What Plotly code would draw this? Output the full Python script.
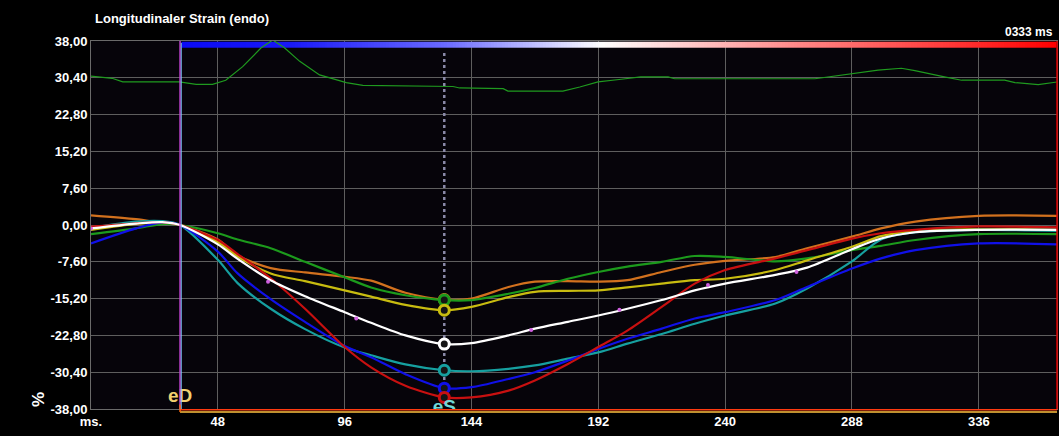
import numpy as np
import plotly.graph_objects as go

# ---------------- data ----------------
t_ms = [0, 17, 27, 33.7, 48, 55.5, 68, 81, 96, 106, 119, 133.7, 144, 158, 168, 180.5,
        192, 203, 216, 228.5, 240, 259, 271, 288, 299, 312, 336, 366]

orange = [2.0, 1.2, 0.4, 0, -3.0, -6.3, -8.9, -9.8, -10.7, -11.5, -14.0, -15.4, -15.2, -12.8, -11.7, -11.6,
          -11.7, -11.4, -9.7, -8.2, -7.4, -6.6, -4.8, -2.4, -0.7, 0.7, 1.9, 1.9]
green = [-1.9, -0.7, 0.2, 0, -1.7, -3.0, -4.8, -7.6, -10.8, -12.9, -14.5, -15.5, -15.5, -14.2, -13.0, -11.1,
         -9.7, -8.6, -7.6, -6.4, -6.6, -7.5, -6.9, -5.2, -4.3, -3.1, -1.9, -1.9]
yellow = [-1.0, 0.2, 0.6, 0, -3.5, -6.5, -10.0, -11.6, -13.5, -14.8, -16.5, -17.6, -16.9, -14.9, -13.8, -13.6,
          -13.5, -12.9, -12.1, -11.4, -11.1, -9.3, -7.3, -4.5, -2.3, -1.2, -0.9, -1.0]
white = [-0.7, 0.3, 0.6, 0, -4.0, -7.0, -11.4, -14.7, -18.0, -20.2, -22.8, -24.6, -24.4, -22.8, -21.4, -20.0,
         -18.7, -17.3, -15.5, -13.5, -12.1, -10.3, -8.8, -5.0, -2.8, -1.5, -1.0, -1.0]
teal = [-0.6, 0.7, 0.8, 0, -7.2, -12.0, -17.3, -21.5, -25.3, -26.9, -28.8, -30.0, -30.2, -29.7, -29.0, -27.6,
        -26.3, -24.5, -22.5, -20.4, -18.7, -16.2, -13.1, -7.5, -3.0, -1.5, -1.0, -1.2]
blue = [-3.8, -0.7, 0.55, 0, -5.5, -10.0, -15.3, -20.0, -25.0, -27.3, -30.8, -33.7, -33.5, -31.8, -30.4, -28.0,
        -25.6, -23.5, -21.4, -19.3, -18.0, -15.5, -12.8, -9.0, -6.9, -5.2, -3.8, -4.0]
red = [-0.35, 0.35, 0.6, 0, -3.1, -6.0, -11.0, -17.3, -25.2, -29.4, -33.2, -35.6, -35.6, -34.2, -32.1, -28.7,
       -25.2, -21.8, -16.9, -12.1, -9.3, -6.9, -5.2, -2.8, -1.7, -1.0, -0.3, -0.5]

# top (green) trace
top_t = [0, 8, 12, 33.4, 39.8, 46, 51, 57.4, 64.4, 68.8, 73.2, 79, 86.5, 96.6, 102.9, 137, 139.5, 156,
         157.8, 178.6, 185, 191.9, 200.7, 208, 218.4, 220.9, 274, 285, 291.6, 297.9, 306.7, 311.8, 323,
         329.5, 345.8, 349.7, 358.5, 366]
top_v = [30.75, 30.3, 29.56, 29.56, 29.06, 29.06, 29.9, 32.7, 36.6, 38.2, 36.6, 33.8, 31.0, 29.4, 28.85,
         28.6, 28.3, 28.15, 27.66, 27.66, 28.5, 29.56, 30.1, 30.6, 30.6, 30.2, 30.2, 30.96, 31.46, 32.0,
         32.37, 31.88, 30.6, 29.9, 29.9, 29.4, 28.99, 29.56]

# knot markers on the white curve
knot_t = [0, 67, 100.4, 166.6, 200, 233.5, 267]
knot_v = [-0.7, -11.7, -19.3, -21.7, -17.5, -12.4, -9.7]

eD_time = 33.7
eS_time = 133.7

y_ticks = [38, 30.4, 22.8, 15.2, 7.6, 0, -7.6, -15.2, -22.8, -30.4, -38]
y_tick_labels = ["38,00", "30,40", "22,80", "15,20", "7,60", "0,00", "-7,60", "-15,20", "-22,80",
                 "-30,40", "-38,00"]
x_ticks = [0, 48, 96, 144, 192, 240, 288, 336]
x_tick_labels = ["ms.", "48", "96", "144", "192", "240", "288", "336"]

series = [
    ("orange", orange, "#d2711e"),
    ("green", green, "#1c9a1c"),
    ("yellow", yellow, "#c8bc10"),
    ("teal", teal, "#16a0a0"),
    ("blue", blue, "#1010e8"),
    ("red", red, "#c81010"),
    ("white", white, "#ffffff"),
]

X_MAX = 365.6

fig = go.Figure()

# top green trace (drawn under the gradient bar)
fig.add_trace(go.Scatter(x=top_t, y=top_v, mode="lines", line=dict(color="#1f9a1f", width=1.2),
                         hoverinfo="skip"))

# gradient bar at top
grad_x = np.linspace(eD_time + 0.6, X_MAX, 301)
fig.add_trace(go.Heatmap(
    x=grad_x, y=[36.6, 37.85], z=[np.linspace(0, 1, 300)],
    colorscale=[[0, "#0a0af5"], [0.12, "#1818f8"], [0.3, "#6a6aff"], [0.48, "#ffffff"],
                [0.7, "#ff8a8a"], [1, "#ff0000"]],
    showscale=False, hoverinfo="skip"))

# eS dotted line
fig.add_trace(go.Scatter(x=[eS_time, eS_time], y=[35.5, -37], mode="lines",
                         line=dict(color="#8a8aa8", width=2.5, dash="dot"), hoverinfo="skip"))

for name, vals, col in series:
    fig.add_trace(go.Scatter(x=t_ms, y=vals, mode="lines", name=name,
                             line=dict(color=col, width=2.2, shape="spline", smoothing=0.8)))

fig.add_trace(go.Scatter(x=knot_t, y=knot_v, mode="markers",
                         marker=dict(color="#d060e0", size=4), hoverinfo="skip"))

# eS markers
for name, vals, col in series:
    v = vals[t_ms.index(eS_time)]
    fig.add_trace(go.Scatter(x=[eS_time], y=[v], mode="markers",
                             marker=dict(symbol="circle", size=10, color="#151515",
                                         line=dict(color=col, width=3))))

# labels eD / eS (clipped to plot area)
fig.add_trace(go.Scatter(x=[eD_time], y=[-35.6], mode="text", text=["eD"],
                         textfont=dict(color="#f2d070", size=19, family="Liberation Sans", weight="bold"),
                         cliponaxis=True, hoverinfo="skip"))
fig.add_trace(go.Scatter(x=[eS_time], y=[-37.9], mode="text", text=["eS"],
                         textfont=dict(color="#70d8d8", size=19, family="Liberation Sans", weight="bold"),
                         cliponaxis=True, hoverinfo="skip"))

shapes = [
    # eD vertical lines
    dict(type="line", xref="x", yref="paper", x0=eD_time, x1=eD_time, y0=0, y1=1,
         line=dict(color="#c040d0", width=1.5)),
    dict(type="line", xref="x", yref="paper", x0=eD_time + 0.45, x1=eD_time + 0.45, y0=0, y1=0.995,
         line=dict(color="#80c8ff", width=1)),
    # right red border
    dict(type="line", xref="paper", yref="paper", x0=1, x1=1, y0=0, y1=1,
         line=dict(color="#e00000", width=1.5)),
    # bottom bracket
    dict(type="line", xref="x", yref="paper", x0=eD_time, x1=X_MAX, y0=-0.002, y1=-0.002,
         line=dict(color="#ff3a10", width=1.5)),
    dict(type="line", xref="x", yref="paper", x0=eD_time, x1=X_MAX, y0=-0.008, y1=-0.008,
         line=dict(color="#ffc040", width=1.5)),
    dict(type="line", xref="x", yref="paper", x0=eD_time, x1=eD_time, y0=-0.008, y1=0.012,
         line=dict(color="#ff6a10", width=1.5)),
]

fig.update_layout(
    width=1059, height=436,
    margin=dict(l=91, r=2, t=41, b=27),
    paper_bgcolor="#000000",
    plot_bgcolor="#06040a",
    showlegend=False,
    shapes=shapes,
    font=dict(family="Liberation Sans", color="#ffffff", size=13, weight="bold"),
    xaxis=dict(range=[0, X_MAX], tickvals=x_ticks, ticktext=x_tick_labels,
               showgrid=True, gridcolor="#5e5e5e", gridwidth=1, zeroline=False,
               showline=True, linecolor="#6a6a6a", linewidth=1, mirror=True,
               ticks="", tickfont=dict(size=13, color="#ffffff", weight="bold")),
    yaxis=dict(range=[-38, 38], tickvals=y_ticks, ticktext=y_tick_labels,
               showgrid=True, gridcolor="#5e5e5e", gridwidth=1, zeroline=False,
               showline=True, linecolor="#6a6a6a", linewidth=1, mirror=True,
               ticks="", tickfont=dict(size=13, color="#ffffff", weight="bold")),
    annotations=[
        dict(text="Longitudinaler Strain (endo)", x=(93 - 91) / (1059 - 93), y=1 + (41 - 18) / (436 - 68),
             xref="paper", yref="paper",
             showarrow=False, xanchor="left", yanchor="middle",
             font=dict(size=13, color="#ffffff", weight="bold")),
        dict(text="0333 ms", x=1, y=1, xref="paper", yref="paper", showarrow=False,
             xanchor="right", yanchor="bottom", yshift=0, xshift=-2,
             font=dict(size=12, color="#ffffff", weight="bold")),
        dict(text="%", x=0, y=0, xref="paper", yref="paper", showarrow=False, textangle=-90,
             xanchor="center", yanchor="middle", xshift=-53, yshift=9,
             font=dict(size=17, color="#ffffff", weight="bold")),
    ],
)

fig.write_html("out.html", config={"displayModeBar": False},
               post_script="document.body.style.margin='0px';document.body.style.overflow='hidden';")
